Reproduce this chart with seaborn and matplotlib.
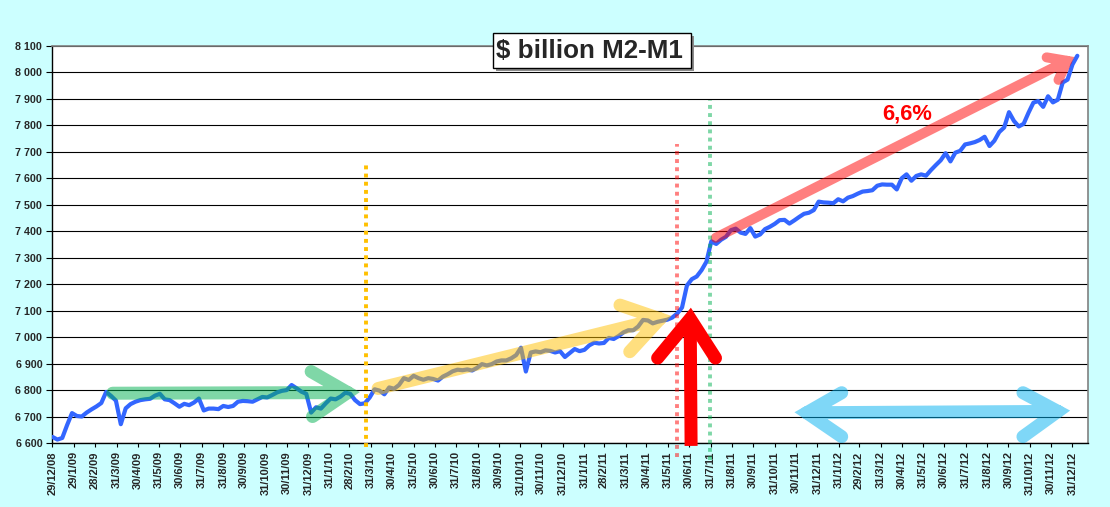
import numpy as np
import pandas as pd
import matplotlib
matplotlib.use("Agg")
import matplotlib.pyplot as plt
import matplotlib.dates as mdates
from matplotlib.path import Path
from matplotlib.patches import PathPatch, Rectangle
import seaborn as sns

# ---------------- data ----------------
start_date = "2008-12-29"          # weekly observations (Mondays)
m2_minus_m1 = [
    6623, 6613, 6619, 6668, 6713, 6702, 6700, 6715, 6727, 6738,
    6751, 6793, 6778, 6760, 6671, 6731, 6747, 6756, 6762, 6765,
    6767, 6779, 6786, 6765, 6762, 6750, 6737, 6748, 6743, 6753,
    6768, 6723, 6730, 6730, 6728, 6740, 6736, 6740, 6756, 6759,
    6758, 6756, 6765, 6774, 6772, 6781, 6791, 6797, 6800, 6819,
    6807, 6794, 6786, 6715, 6735, 6730, 6750, 6768, 6765, 6775,
    6790, 6786, 6762, 6747, 6750, 6772, 6803, 6798, 6784, 6810,
    6805, 6819, 6845, 6838, 6854, 6845, 6839, 6845, 6842, 6836,
    6851, 6860, 6871, 6877, 6875, 6878, 6874, 6884, 6898, 6893,
    6898, 6908, 6912, 6912, 6920, 6932, 6960, 6870, 6942, 6946,
    6943, 6950, 6948, 6942, 6947, 6925, 6940, 6955, 6947, 6952,
    6969, 6979, 6976, 6978, 6997, 6993, 7004, 7018, 7026, 7026,
    7040, 7065, 7063, 7052, 7058, 7062, 7066, 7074, 7089, 7112,
    7195, 7219, 7229, 7253, 7285, 7362, 7352, 7368, 7379, 7404,
    7410, 7395, 7390, 7412, 7380, 7388, 7408, 7417, 7428, 7442,
    7443, 7429, 7441, 7454, 7466, 7470, 7480, 7512, 7509, 7508,
    7506, 7521, 7513, 7527, 7533, 7542, 7550, 7552, 7555, 7572,
    7577, 7576, 7576, 7558, 7600, 7615, 7591, 7609, 7615, 7610,
    7631, 7650, 7668, 7695, 7664, 7697, 7704, 7728, 7732, 7737,
    7745, 7757, 7722, 7742, 7775, 7792, 7850, 7817, 7796, 7806,
    7848, 7886, 7892, 7870, 7910, 7887, 7897, 7962, 7973, 8030,
    8063,
]
x_tick_labels = [
    "29/12/08", "29/1/09", "28/2/09", "31/3/09", "30/4/09", "31/5/09", "30/6/09",
    "31/7/09", "31/8/09", "30/9/09", "31/10/09", "30/11/09", "31/12/09", "31/1/10",
    "28/2/10", "31/3/10", "30/4/10", "31/5/10", "30/6/10", "31/7/10", "31/8/10",
    "30/9/10", "31/10/10", "30/11/10", "31/12/10", "31/1/11", "28/2/11", "31/3/11",
    "30/4/11", "31/5/11", "30/6/11", "31/7/11", "31/8/11", "30/9/11", "31/10/11",
    "30/11/11", "31/12/11", "31/1/12", "29/2/12", "31/3/12", "30/4/12", "31/5/12",
    "30/6/12", "31/7/12", "31/8/12", "30/9/12", "31/10/12", "30/11/12", "31/12/12",
]
y_ticks = list(range(6600, 8101, 100))
title_text = "$ billion M2-M1"
growth_label = "6,6%"

# annotation shapes (date, value): shaft start, outer tip, arm end centres
green_arrow = dict(start=("2009-03-16", 6788), tip=("2010-03-21", 6793),
                   arms=[("2010-01-04", 6870), ("2010-01-06", 6700)])
yellow_arrow = dict(start=("2010-04-01", 6800), tip=("2011-06-10", 7084),
                    arms=[("2011-03-23", 7121), ("2011-04-06", 6945)])
pink_arrow = dict(start=("2011-08-01", 7367), tip=("2013-01-08", 8066),
                  arms=[("2012-11-24", 8057), ("2012-12-11", 7972)])
red_arrow = dict(start=("2011-07-03", 6589), tip=("2011-07-03", 7121),
                 arms=[("2011-05-16", 6921), ("2011-08-07", 6921)])
blue_arrow = dict(left=("2011-11-22", 6717), right=("2013-01-03", 6724),
                  left_arms=[("2012-02-04", 6790), ("2012-02-04", 6624)],
                  right_arms=[("2012-10-21", 6790), ("2012-10-21", 6624)])
vlines = [("2010-03-24", 6585, 7658, "#FFC000", 1.0),
          ("2011-06-13", 6547, 7730, "#FF0000", 0.5),
          ("2011-07-30", 6536, 7896, "#00B050", 0.5)]

# ---------------- style ----------------
sns.set_style("white")
plt.rcParams["font.family"] = ["Liberation Sans", "DejaVu Sans"]

W, H = 1110, 507
fig = plt.figure(figsize=(W / 100, H / 100), dpi=100, facecolor="#CCFFFF")
ax = fig.add_axes([52 / W, 1 - 443 / H, (1088 - 52) / W, (443 - 46) / H])
ax.set_facecolor("white")

dates = pd.date_range(start_date, periods=len(m2_minus_m1), freq="7D")
df = pd.DataFrame({"date": dates, "value": m2_minus_m1})
sns.lineplot(data=df, x="date", y="value", ax=ax, color="#3366FF", lw=3.0,
             solid_joinstyle="round", solid_capstyle="round", zorder=3)


def dn(d):
    return mdates.date2num(pd.Timestamp(d))


def P(pt):
    return (dn(pt[0]), pt[1])


d0 = dn(start_date)
ax.set_xlim(d0 - 0.7, d0 + 1485.3)
ax.set_ylim(6600, 8100)

ax.set_yticks(y_ticks)
ax.set_yticklabels([f"{v:,}".replace(",", " ") for v in y_ticks],
                   fontsize=7.7, fontweight="bold")
tick_dates = [dn(pd.to_datetime(s, format="%d/%m/%y")) for s in x_tick_labels]
ax.set_xticks(tick_dates)
ax.set_xticklabels(x_tick_labels, rotation=90, fontsize=8, fontweight="bold")
ax.tick_params(axis="y", direction="out", length=4, width=0.8, color="black",
               pad=3, left=True)
ax.tick_params(axis="x", direction="out", length=3, width=0.8, color="black",
               pad=3, bottom=True)
ax.set_xlabel("")
ax.set_ylabel("")

ax.yaxis.grid(True, color="black", lw=0.8)
ax.xaxis.grid(False)
ax.set_axisbelow(True)
for s in ["left", "bottom"]:
    ax.spines[s].set_color("black")
    ax.spines[s].set_linewidth(1.0)
for s in ["top", "right"]:
    ax.spines[s].set_color("#808080")
    ax.spines[s].set_linewidth(1.2)

# ---------------- annotations ----------------
M, L = Path.MOVETO, Path.LINETO


def to_px(pt):
    return ax.transData.transform(P(pt))


def to_data(arr):
    return ax.transData.inverted().transform(np.asarray(arr))


def head_geometry(tip, arms, wpx):
    """Outer tip of an open arrow head -> stroke centre tip (miter join)."""
    T = to_px(tip)
    A = [to_px(a) for a in arms]
    U = [(a - T) / np.linalg.norm(a - T) for a in A]
    bis = U[0] + U[1]
    bis /= np.linalg.norm(bis)
    half = np.arccos(np.clip(np.dot(U[0], U[1]), -1, 1)) / 2
    t = T + bis * (wpx / 2) / np.sin(half)
    return t, A


def shaft_start(start, toward, wpx):
    S = to_px(start)
    T = np.asarray(toward)
    u = (T - S) / np.linalg.norm(T - S)
    return S + u * (wpx / 2)


def stroke(points_px, codes, color, alpha, wpx, z, cap="round", clip=False):
    verts = to_data(points_px)
    ax.add_patch(PathPatch(Path(verts, codes), fill=False, edgecolor=color,
                           alpha=alpha, lw=wpx * 0.72, capstyle=cap,
                           joinstyle="miter", zorder=z, clip_on=clip))


def chevron(spec, color, alpha, wpx, z):
    t, (a, b) = head_geometry(spec["tip"], spec["arms"], wpx)
    s = shaft_start(spec["start"], t, wpx)
    stroke([s, t, a, t, b], [M, L, M, L, L], color, alpha, wpx, z)


chevron(green_arrow, "#00B050", 0.5, 13, 4)
chevron(yellow_arrow, "#FFC000", 0.5, 13, 4)
chevron(pink_arrow, "#FF0000", 0.5, 10, 4)

# blue double arrow
wb = 13
lt, (la, lb) = head_geometry(blue_arrow["left"], blue_arrow["left_arms"], wb)
rt, (ra, rb) = head_geometry(blue_arrow["right"], blue_arrow["right_arms"], wb)
stroke([la, lt, lb, lt, rt, ra, rt, rb], [M, L, L, M, L, M, L, L],
       "#00B0F0", 0.5, wb, 4, clip=True)

# red up arrow (opaque)
wr = 13
rtip, (r1, r2) = head_geometry(red_arrow["tip"], red_arrow["arms"], wr)
rs = to_px(red_arrow["start"])
stroke([rs, rtip], [M, L], "#FF0000", 1.0, wr, 6, cap="butt")
stroke([r1, rtip, r2], [M, L, L], "#FF0000", 1.0, wr, 6)

# dotted verticals
for d, y0, y1, c, a in vlines:
    ax.plot([dn(d), dn(d)], [y0, y1], color=c, alpha=a, lw=2.8,
            linestyle=(0, (1, 1.1)), dash_capstyle="butt", zorder=5, clip_on=False)

ax.text(dn("2012-05-08"), 7843, growth_label, color="#FF0000", fontsize=15.8,
        fontweight="bold", ha="center", va="center", zorder=7)

# title box with shadow
bx0, by0, bw, bh = 492.7 / W, 1 - 68.3 / H, 198.3 / W, 35 / H
fig.patches.append(Rectangle((bx0 + 3 / W, by0 - 3 / H), bw, bh, transform=fig.transFigure,
                             facecolor="#8C8C8C", edgecolor="none", zorder=5))
fig.patches.append(Rectangle((bx0, by0), bw, bh, transform=fig.transFigure,
                             facecolor="white", edgecolor="black", lw=1.0, zorder=6))
fig.text(589.5 / W, 1 - 51 / H, title_text, fontsize=18.7, fontweight="bold",
         ha="center", va="center", zorder=7)

fig.savefig("out.png", dpi=100, facecolor=fig.get_facecolor())
